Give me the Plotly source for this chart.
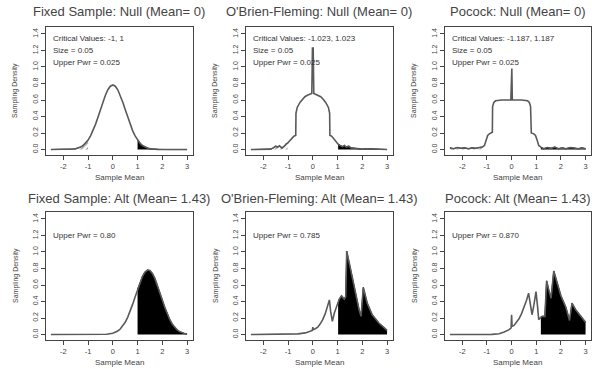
import plotly.graph_objects as go

# ---------------- data ----------------
panel_titles = [
    "Fixed Sample: Null (Mean= 0)",
    "O'Brien-Fleming: Null (Mean= 0)",
    "Pocock: Null (Mean= 0)",
    "Fixed Sample: Alt (Mean= 1.43)",
    "O'Brien-Fleming: Alt (Mean= 1.43)",
    "Pocock: Alt (Mean= 1.43)",
]

panel_notes = [
    ["Critical Values: -1, 1", "Size = 0.05", "Upper Pwr = 0.025"],
    ["Critical Values: -1.023, 1.023", "Size = 0.05", "Upper Pwr = 0.025"],
    ["Critical Values: -1.187, 1.187", "Size = 0.05", "Upper Pwr = 0.025"],
    ["Upper Pwr = 0.80"],
    ["Upper Pwr = 0.785"],
    ["Upper Pwr = 0.870"],
]

lower_crit = [-1.0, -1.023, -1.187, None, None, None]
upper_crit = [1.0, 1.023, 1.187, 1.0, 1.023, 1.187]

fixed_null_x = [-2.5, -2.0, -1.8, -1.6, -1.5, -1.4, -1.3, -1.2, -1.1, -1.0, -0.9, -0.8, -0.7,
                -0.6, -0.5, -0.4, -0.3, -0.2, -0.1, 0.0, 0.1, 0.2, 0.3, 0.4, 0.5, 0.6, 0.7,
                0.8, 0.9, 1.0, 1.1, 1.2, 1.3, 1.4, 1.5, 1.6, 1.8, 2.0, 2.5, 3.0]
fixed_null_y = [0.0, 0.0004, 0.0015, 0.006, 0.010, 0.018, 0.030, 0.049, 0.076, 0.114, 0.165,
                0.229, 0.305, 0.391, 0.484, 0.575, 0.658, 0.724, 0.767, 0.782, 0.767, 0.724,
                0.658, 0.575, 0.484, 0.391, 0.305, 0.229, 0.165, 0.114, 0.076, 0.049, 0.030,
                0.018, 0.010, 0.006, 0.0015, 0.0004, 0.0, 0.0]

obf_null_x = [-2.5, -2.2, -2.0, -1.8, -1.7, -1.6, -1.5, -1.42, -1.35, -1.25, -1.15, -1.07,
              -1.023, -0.95, -0.88, -0.8, -0.75, -0.69, -0.68, -0.63, -0.52, -0.42, -0.32,
              -0.2, -0.12, -0.04, -0.015, 0.015, 0.04, 0.12, 0.2, 0.32, 0.42, 0.52, 0.63, 0.68,
              0.69, 0.75, 0.8, 0.88, 0.95, 1.023, 1.1, 1.2, 1.28, 1.35, 1.45, 1.55, 1.7,
              1.85, 2.0, 2.2, 2.5, 2.8, 3.0]
obf_null_y = [0.0, 0.005, 0.0, 0.008, 0.005, 0.02, 0.04, 0.03, 0.045, 0.02, 0.04, 0.07,
              0.075, 0.10, 0.13, 0.15, 0.165, 0.17, 0.44, 0.51, 0.57, 0.61, 0.64,
              0.66, 0.67, 0.68, 1.23, 1.23, 0.68, 0.67, 0.66, 0.64, 0.61, 0.57, 0.51, 0.44,
              0.17, 0.165, 0.15, 0.12, 0.09, 0.065, 0.05, 0.035, 0.05, 0.03, 0.04, 0.02, 0.015,
              0.01, 0.005, 0.01, 0.003, 0.005, 0.0]

pocock_null_x = [-2.5, -2.35, -2.2, -2.05, -1.9, -1.75, -1.6, -1.45, -1.3, -1.187, -1.1,
                 -1.03, -0.97, -0.9, -0.8, -0.78, -0.77, -0.72, -0.65, -0.4, -0.03, -0.01,
                 0.01, 0.03, 0.4, 0.65, 0.72, 0.77, 0.78, 0.8, 0.9, 0.97, 1.03, 1.1, 1.187,
                 1.3, 1.45, 1.6, 1.75, 1.9, 2.05, 2.2, 2.4, 2.55, 2.7, 2.85, 3.0]
pocock_null_y = [0.02, 0.01, 0.025, 0.015, 0.02, 0.01, 0.02, 0.015, 0.025, 0.03, 0.05,
                 0.12, 0.17, 0.19, 0.2, 0.21, 0.52, 0.57, 0.59, 0.6, 0.6, 0.98,
                 0.98, 0.6, 0.6, 0.59, 0.57, 0.52, 0.21, 0.2, 0.19, 0.17, 0.12, 0.05, 0.03,
                 0.01, 0.025, 0.015, 0.03, 0.01, 0.02, 0.01, 0.025, 0.015, 0.01, 0.02, 0.01]

fixed_alt_x = [-2.5, -1.0, -0.5, -0.25, 0.0, 0.1, 0.2, 0.3, 0.4, 0.5, 0.6, 0.7, 0.8, 0.9,
               1.0, 1.1, 1.2, 1.3, 1.4, 1.5, 1.6, 1.7, 1.8, 1.9, 2.0, 2.1, 2.2, 2.3, 2.4,
               2.5, 2.6, 2.7, 2.8, 2.9, 3.0]
fixed_alt_y = [0.0, 0.0, 0.0006, 0.0034, 0.0153, 0.026, 0.043, 0.067, 0.102, 0.148, 0.208,
               0.281, 0.365, 0.456, 0.548, 0.634, 0.706, 0.757, 0.781, 0.775, 0.740, 0.680,
               0.601, 0.511, 0.419, 0.330, 0.250, 0.183, 0.128, 0.087, 0.056, 0.035, 0.021,
               0.012, 0.007]

obf_alt_x = [-2.5, -1.5, -1.0, -0.6, -0.3, -0.1, -0.02, 0.0, 0.02, 0.1, 0.2, 0.3, 0.4, 0.5,
             0.6, 0.67, 0.72, 0.79, 0.87, 0.95, 1.023, 1.07, 1.16, 1.27, 1.33, 1.37, 1.47,
             1.6, 1.73, 1.87, 1.95, 2.04, 2.2, 2.4, 2.67, 2.85, 3.0]
obf_alt_y = [0.0, 0.0, 0.002, 0.008, 0.02, 0.04, 0.05, 0.09, 0.06, 0.07, 0.09, 0.13, 0.18,
             0.25, 0.34, 0.42, 0.28, 0.16, 0.26, 0.33, 0.38, 0.43, 0.47, 0.43, 0.46, 1.01,
             0.87, 0.67, 0.48, 0.30, 0.22, 0.57, 0.38, 0.24, 0.14, 0.09, 0.05]

pocock_alt_x = [-2.5, -1.5, -0.8, -0.5, -0.3, -0.1, -0.02, 0.0, 0.02, 0.1, 0.2, 0.3, 0.4,
                0.5, 0.6, 0.69, 0.76, 0.83, 0.9, 0.99, 1.05, 1.1, 1.187, 1.25, 1.35, 1.42,
                1.5, 1.6, 1.71, 1.8, 1.9, 2.0, 2.1, 2.2, 2.35, 2.45, 2.6, 2.8, 3.0]
pocock_alt_y = [0.0, 0.0, 0.002, 0.01, 0.03, 0.06, 0.08, 0.24, 0.10, 0.11, 0.15, 0.19, 0.25,
                0.32, 0.41, 0.50, 0.35, 0.24, 0.35, 0.52, 0.35, 0.18, 0.21, 0.22, 0.22, 0.65,
                0.55, 0.44, 0.77, 0.68, 0.56, 0.47, 0.40, 0.33, 0.17, 0.38, 0.30, 0.22, 0.15]

curves_x = [fixed_null_x, obf_null_x, pocock_null_x, fixed_alt_x, obf_alt_x, pocock_alt_x]
curves_y = [fixed_null_y, obf_null_y, pocock_null_y, fixed_alt_y, obf_alt_y, pocock_alt_y]

x_ticks = [-2, -1, 0, 1, 2, 3]
y_ticks = [0.0, 0.2, 0.4, 0.6, 0.8, 1.0, 1.2, 1.4]
y_tick_text = ["0.0", "0.2", "0.4", "0.6", "0.8", "1.0", "1.2", "1.4"]
x_title = "Sample Mean"
y_title = "Sampling Density"

# ---------------- layout geometry ----------------
W, H = 592, 369
col_px = [(45.5, 192.5), (245.5, 392.5), (444.5, 591.0)]
row_px = [(26.5, 154.5), (211.5, 339.5)]
title_px_y = [12, 198]
xtitle_px_y = [178, 362]
ytitle_px_dx = 30   # distance of the y title from the box's left edge

FONT = "Liberation Sans, Arial, Helvetica, sans-serif"
TXT = "#444444"
LINE = "#5a5a5a"

fig = go.Figure()
layout_axes = {}
annotations = []

for i in range(6):
    r, c = divmod(i, 3)
    n = i + 1
    xa = "x" if n == 1 else f"x{n}"
    ya = "y" if n == 1 else f"y{n}"
    xs, ys = curves_x[i], curves_y[i]

    # lower rejection region (hatched)
    if lower_crit[i] is not None:
        lx = [x for x in xs if x <= lower_crit[i] + 1e-9]
        ly = [y for x, y in zip(xs, ys) if x <= lower_crit[i] + 1e-9]
        fig.add_trace(go.Scatter(
            x=lx, y=ly, xaxis=xa, yaxis=ya, mode="lines",
            line=dict(color="#222222", width=1), fill="tozeroy",
            fillcolor="white",
            fillpattern=dict(shape="/", fgcolor="#333333", bgcolor="white",
                             size=4, solidity=0.35),
            hoverinfo="skip", showlegend=False))
    # upper rejection region (solid black)
    ux = [x for x in xs if x >= upper_crit[i] - 1e-9]
    uy = [y for x, y in zip(xs, ys) if x >= upper_crit[i] - 1e-9]
    fig.add_trace(go.Scatter(
        x=ux, y=uy, xaxis=xa, yaxis=ya, mode="lines",
        line=dict(color="black", width=1), fill="tozeroy", fillcolor="black",
        hoverinfo="skip", showlegend=False))
    # the density curve
    fig.add_trace(go.Scatter(
        x=xs, y=ys, xaxis=xa, yaxis=ya, mode="lines",
        line=dict(color=LINE, width=1.6),
        hoverinfo="skip", showlegend=False))

    x0, x1 = col_px[c]
    y0, y1 = row_px[r]
    xdom = [x0 / W, x1 / W]
    ydom = [1 - y1 / H, 1 - y0 / H]
    layout_axes["xaxis" if n == 1 else f"xaxis{n}"] = dict(
        domain=xdom, anchor=ya, range=[-2.72, 3.22], automargin=False,
        tickvals=x_ticks, ticktext=[str(t) for t in x_ticks],
        showline=True, mirror=True, linecolor=TXT, linewidth=1,
        ticks="outside", ticklen=4, tickcolor=TXT, tickwidth=1,
        showgrid=False, zeroline=False,
        tickfont=dict(family=FONT, size=7.5, color=TXT),
    )
    layout_axes["yaxis" if n == 1 else f"yaxis{n}"] = dict(
        domain=ydom, anchor=xa, range=[-0.06, 1.49], automargin=False,
        tickvals=y_ticks, ticktext=y_tick_text, tickangle=-90,
        showline=True, mirror=True, linecolor=TXT, linewidth=1,
        ticks="outside", ticklen=4, tickcolor=TXT, tickwidth=1,
        showgrid=False, zeroline=False,
        tickfont=dict(family=FONT, size=7, color=TXT),
    )

    # panel title
    annotations.append(dict(
        text=panel_titles[i], xref="paper", yref="paper",
        x=(x0 + x1) / 2 / W, y=1 - title_px_y[r] / H,
        xanchor="center", yanchor="middle", showarrow=False,
        font=dict(family=FONT, size=13, color=TXT)))
    # axis titles
    annotations.append(dict(
        text=x_title, xref="paper", yref="paper",
        x=(x0 + x1) / 2 / W, y=1 - xtitle_px_y[r] / H,
        xanchor="center", yanchor="middle", showarrow=False,
        font=dict(family=FONT, size=8, color=TXT)))
    annotations.append(dict(
        text=y_title, xref="paper", yref="paper", textangle=-90,
        x=(x0 - ytitle_px_dx) / W, y=1 - (y0 + y1) / 2 / H,
        xanchor="center", yanchor="middle", showarrow=False,
        font=dict(family=FONT, size=7, color=TXT)))

    note_y = [1.35, 1.2, 1.05] if len(panel_notes[i]) == 3 else [1.2]
    for txt, yy in zip(panel_notes[i], note_y):
        annotations.append(dict(
            text=txt, xref=xa, yref=ya, x=-2.5, y=yy,
            xanchor="left", yanchor="middle", showarrow=False,
            font=dict(family=FONT, size=8, color="#333333")))

fig.update_layout(
    width=W, height=H, margin=dict(l=0, r=0, t=0, b=0),
    paper_bgcolor="white", plot_bgcolor="white",
    showlegend=False, annotations=annotations, **layout_axes)

fig.write_html(
    "out.html",
    config={"displayModeBar": False, "staticPlot": True},
    post_script="document.body.style.margin='0';document.body.style.padding='0';"
                "document.body.style.overflow='hidden';",
)
